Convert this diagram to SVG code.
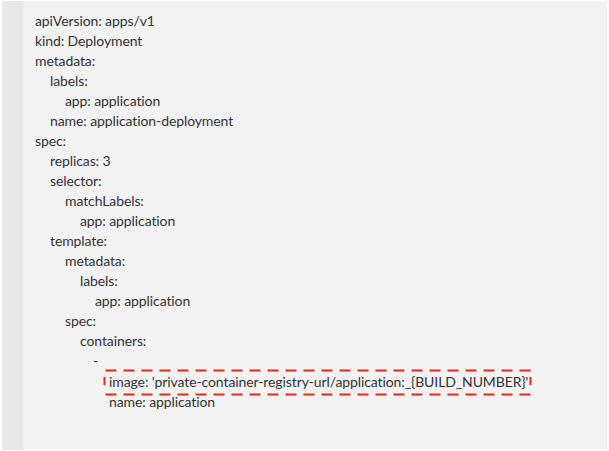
<svg xmlns="http://www.w3.org/2000/svg" width="609" height="451" viewBox="0 0 609 451">
<style>
text{font-family:Lato,"Liberation Sans",sans-serif;font-size:14px;letter-spacing:-0.1px;fill:#333}
.hl{fill:none;stroke:#e8281c;stroke-width:2}
.hd{stroke-dasharray:11 7}
</style>
<rect x="0" y="0" width="609" height="451" fill="#fff"/>
<rect x="2" y="1" width="605" height="449" fill="#f2f2f2"/>
<rect x="2" y="1" width="21" height="449" fill="#e8e8e8"/>
<g id="yaml">
<text x="35" y="26">apiVersion: apps/v1</text>
<text x="35" y="46">kind: Deployment</text>
<text x="35" y="66">metadata:</text>
<text x="50" y="86">labels:</text>
<text x="65" y="106">app: application</text>
<text x="50" y="126">name: application-deployment</text>
<text x="35" y="146">spec:</text>
<text x="50" y="166">replicas: 3</text>
<text x="50" y="186">selector:</text>
<text x="65" y="206">matchLabels:</text>
<text x="80" y="226">app: application</text>
<text x="50" y="246">template:</text>
<text x="65" y="266">metadata:</text>
<text x="80" y="286">labels:</text>
<text x="95" y="306">app: application</text>
<text x="65" y="326">spec:</text>
<text x="80" y="346">containers:</text>
<text x="93" y="366">-</text>
<text x="109" y="387">image: 'private-container-registry-url/application:_{BUILD_NUMBER}'</text>
<text x="109" y="407">name: application</text>
</g>
<g id="highlight" class="hl">
<line class="hd" x1="105.5" y1="370.5" x2="531" y2="370.5"/>
<line class="hd" x1="105.5" y1="394.5" x2="531" y2="394.5"/>
<line x1="104.5" y1="377" x2="104.5" y2="385"/>
<line x1="530.5" y1="377" x2="530.5" y2="385"/>
</g>
</svg>
